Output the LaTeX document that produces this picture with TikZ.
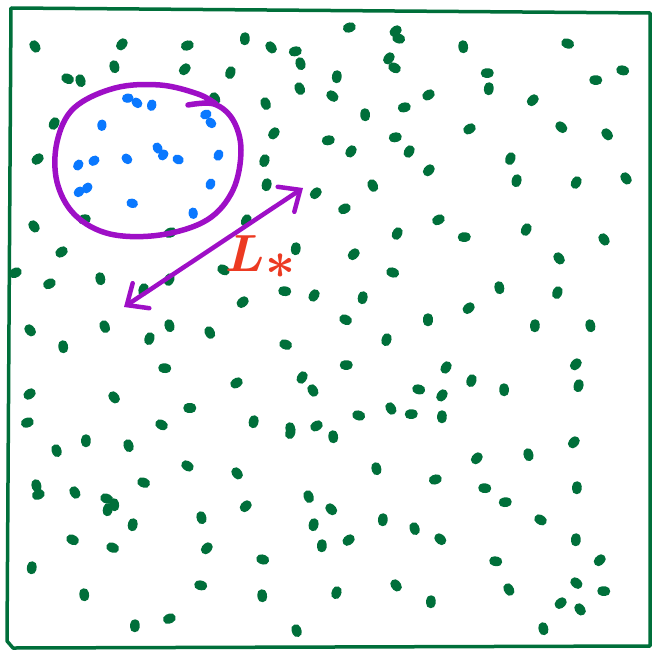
\documentclass[tikz,border=0pt]{standalone}
\usepackage{tikz}
\usetikzlibrary{arrows.meta}
\definecolor{dotgreen}{HTML}{006F3A}
\definecolor{loopviolet}{HTML}{9E0FC6}
\definecolor{dotblue}{HTML}{0A78FF}
\definecolor{labelred}{HTML}{EC3A22}
\tikzset{
  gdot/.style={draw=dotgreen, line width=9.5pt, line cap=round},
  bdot/.style={draw=dotblue, line width=9pt, line cap=round},
  sqframe/.style={draw=dotgreen, line width=3.5pt, line cap=round, line join=round},
  loopline/.style={draw=loopviolet, line width=5.5pt, line cap=round, line join=round},
  dblarrow/.style={draw=loopviolet, line width=4.5pt, line cap=round,
                   {Straight Barb[length=17pt,width=30pt,line cap=round]}-{Straight Barb[length=17pt,width=30pt,line cap=round]}},
  lbl/.style={text=labelred, inner sep=0pt, scale=2.1, font=\Huge\boldmath},
}
\begin{document}
\begin{tikzpicture}[x=1pt,y=-1pt]
  \useasboundingbox (0,0) rectangle (652,650);
  \draw[sqframe] (11,8) -- (650,13) -- (650,646) -- (13,648) -- (7,641) -- cycle;
  \foreach \x/\y in {34/45,123/43,189/45,114/65,186/68,66/78,80/79,214/97,55/122,39/158,86/219,
      245/37,270/46,297/51,300/62,351/27,397/30,397/38,390/57,393/67,231/71,337/75,299/87,265/102,
      331/95,365/113,406/107,430/94,275/132,330/140,352/150,397/137,410/150,265/159,430/169,267/183,
      372/184,317/192,346/208,247/219,
      463/45,566/43,489/73,489/87,594/80,621/70,534/99,471/128,560/126,606/133,511/157,517/179,
      577/181,625/177,440/219,
      33/225,172/232,63/251,17/272,100/277,51/283,170/278,144/288,222/269,29/329,104/325,169/324,
      150/337,209/331,63/345,163/368,31/393,113/396,188/408,29/422,160/424,
      398/232,296/247,355/253,391/272,283/291,315/294,363/296,244/301,344/319,428/318,387/338,
      284/344,348/365,238/382,303/376,312/389,417/389,390/407,413/414,254/420,290/427,318/425,
      357/415,333/435,
      466/237,527/228,603/238,558/257,499/286,558/291,470/307,535/324,590/324,447/366,577/363,
      472/379,504/388,579/384,443/394,442/415,
      56/449,86/439,128/444,186/465,36/484,40/494,74/491,142/482,105/498,108/508,114/503,201/516,
      133/523,71/539,111/547,208/547,32/566,199/585,84/593,171/618,135/624,
      291/431,236/472,376/467,308/495,247/505,330/508,314/523,383/518,414/527,322/544,350/539,
      261/559,395/584,262/594,337/591,296/629,431/600,
      575/441,478/457,528/453,437/479,483/488,577/486,507/502,539/519,439/538,576/538,494/561,
      601/559,575/582,508/588,602/591,562/602,579/608,543/627}
    \draw[gdot] (\x,\y) -- ++({mod(3*\x+7*\y,180)}:3.5);
  \foreach \x/\y in {129/98,136/102,152/104,102/124,207/114,210/122,157/147,164/154,177/159,
      126/158,95/160,79/164,219/154,80/191,88/187,211/183,131/203,193/212}
    \draw[bdot] (\x,\y) -- ++({mod(3*\x+7*\y,180)}:2.5);
  \draw[loopline] plot[smooth, tension=0.6] coordinates {(188,105) (214,104) (233,120)
      (241,150) (233,190) (207,220) (160,235) (110,234) (75,215) (57,182) (57,142)
      (74,108) (115,88) (160,85) (198,94) (216,104)};
  \coordinate (lo) at (124,307);
  \coordinate (hi) at (303,188);
  \draw[dblarrow] (lo) -- (hi);
  \node[lbl] (lstar) at (261,257) {$L_{\textstyle *}$};
\end{tikzpicture}
\end{document}
